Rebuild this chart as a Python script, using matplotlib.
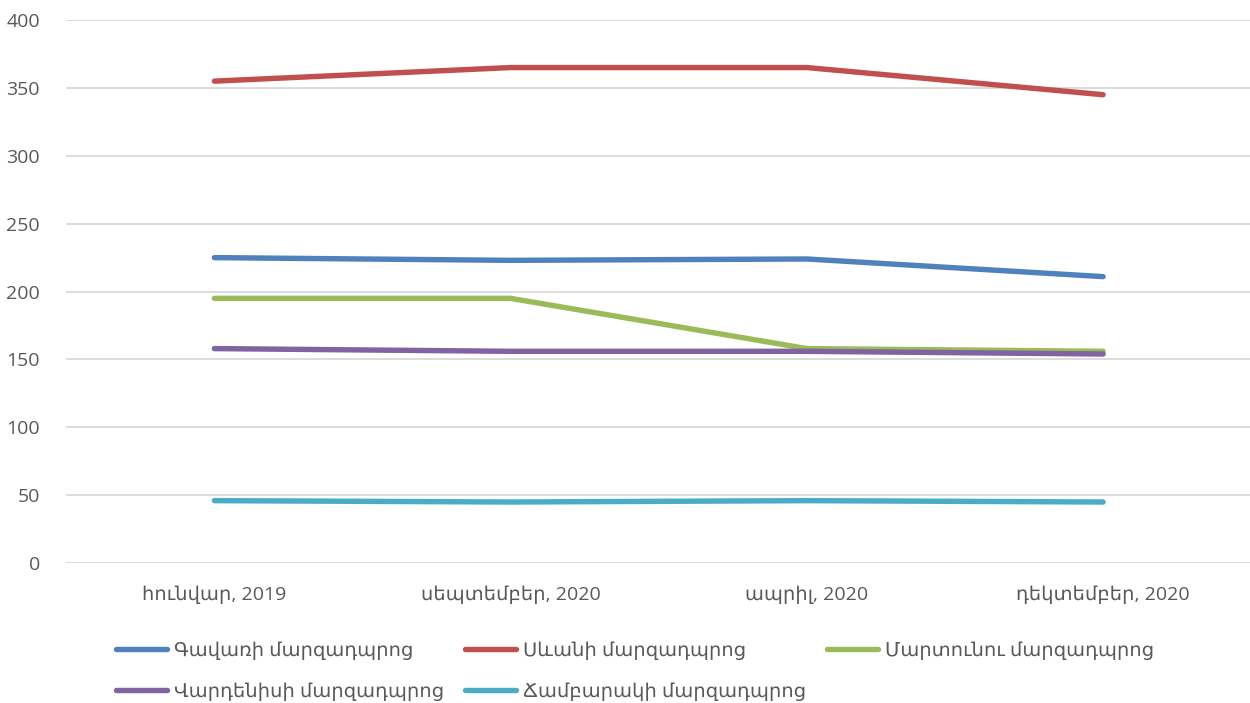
import matplotlib
matplotlib.use("Agg")
import matplotlib.pyplot as plt

plt.rcParams['font.family'] = ['Open Sans', 'DejaVu Sans']

categories = ["հունվար, 2019", "սեպտեմբեր, 2020", "ապրիլ, 2020", "դեկտեմբեր, 2020"]
series_names = ["Գավառի մարզադպրոց", "Սևանի մարզադպրոց", "Մարտունու մարզադպրոց",
                "Վարդենիսի մարզադպրոց", "Ճամբարակի մարզադպրոց"]
gavar = [225, 223, 224, 211]
sevan = [355, 365, 365, 345]
martuni = [195, 195, 158, 156]
vardenis = [158, 156, 156, 154]
chambarak = [46, 45, 46, 45]
colors = ["#4f81bd", "#c0504d", "#9bbb59", "#8064a2", "#4bacc6"]

fig = plt.figure(figsize=(12.5, 7.03), dpi=100)
ax = fig.add_axes([0.053, 0.199, 0.948, 0.7725])

x = range(len(categories))
handles = []
for vals, name, c in zip([gavar, sevan, martuni, vardenis, chambarak], series_names, colors):
    h, = ax.plot(x, vals, color=c, lw=3.9, solid_capstyle='round', solid_joinstyle='round', label=name)
    handles.append(h)

ax.set_xlim(-0.5, 3.5)
ax.set_ylim(0, 400)
ax.set_yticks(range(0, 401, 50))
ax.set_xticks(list(x))
ax.set_xticklabels(categories)
ax.grid(axis='y', color='#d9d9d9', lw=1.3)
ax.set_axisbelow(True)
for s in ax.spines.values():
    s.set_visible(False)
ax.tick_params(axis='both', length=0, colors='#595959', labelsize=14)
ax.tick_params(axis='y', pad=19)
ax.tick_params(axis='x', pad=16)

# row-major order for a 3-column legend
order = [0, 3, 1, 4, 2]
leg = fig.legend([handles[i] for i in order], [series_names[i] for i in order],
                 ncol=3, loc='upper left', bbox_to_anchor=(0.079, 0.112),
                 frameon=False, fontsize=14, handlelength=2.6, handletextpad=0.36,
                 columnspacing=1.1, labelspacing=1.15, labelcolor='#595959')

fig.savefig("out.png", dpi=100)
